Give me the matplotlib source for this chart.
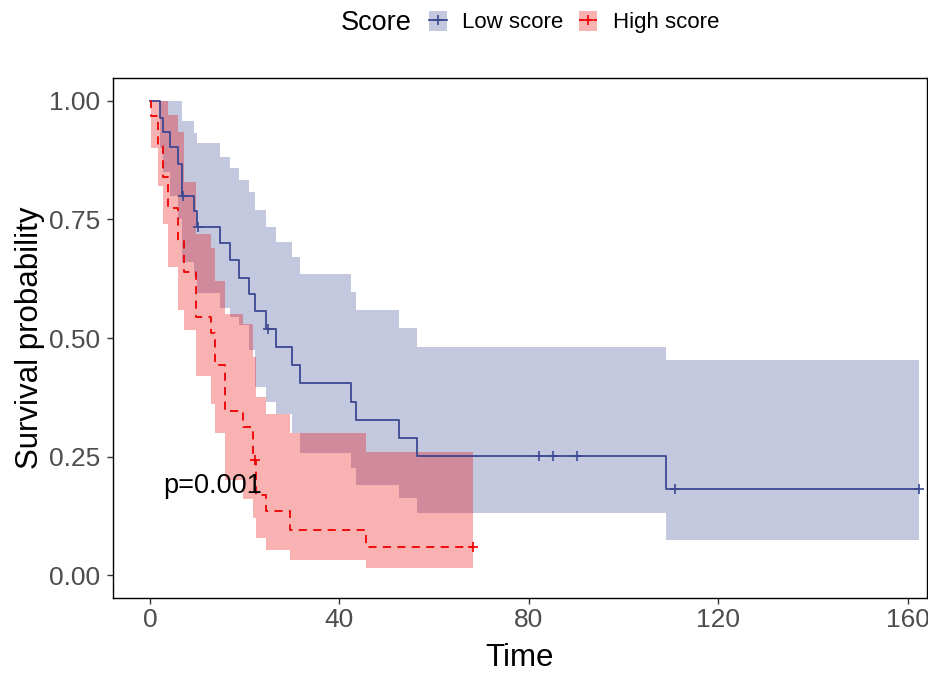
import matplotlib
matplotlib.use("Agg")
import matplotlib.pyplot as plt
from matplotlib.patches import Patch
from matplotlib.lines import Line2D

plt.rcParams['font.family'] = ['Liberation Sans', 'DejaVu Sans']

# Kaplan-Meier steps: time of each step, survival after it, and the 95% band
low_t = [0, 2.1, 2.8, 4.2, 6.0, 6.7, 9.2, 9.9, 14.8, 16.9, 18.9, 21.0, 22.2,
         24.6, 26.6, 29.9, 31.7, 42.4, 43.6, 52.6, 56.5, 108.9]
low_s = [1.0, 0.964, 0.935, 0.902, 0.868, 0.80, 0.768, 0.735, 0.70, 0.664,
         0.627, 0.593, 0.557, 0.519, 0.482, 0.443, 0.406, 0.366, 0.328, 0.29,
         0.251, 0.181]
low_upper = [1.0, 1.0, 1.0, 1.0, 1.0, 0.957, 0.932, 0.911, 0.882, 0.858, 0.833,
             0.809, 0.77, 0.735, 0.703, 0.67, 0.636, 0.598, 0.56, 0.522, 0.482,
             0.454]
low_lower = [1.0, 0.90, 0.85, 0.80, 0.75, 0.66, 0.63, 0.594, 0.563, 0.545,
             0.527, 0.475, 0.397, 0.366, 0.34, 0.30, 0.257, 0.225, 0.19, 0.162,
             0.13, 0.074]
low_end = 162.5
low_cens_t = [6.9, 10.1, 25.0, 82.2, 85.2, 90.1, 110.9, 162.5]
low_cens_s = [0.80, 0.735, 0.519, 0.251, 0.251, 0.251, 0.181, 0.181]

high_t = [0, 0.3, 1.8, 2.8, 3.9, 6.0, 7.2, 9.8, 12.8, 13.7, 15.8, 19.7, 21.8,
          22.5, 24.6, 29.6, 45.6]
high_s = [1.0, 0.968, 0.904, 0.839, 0.774, 0.705, 0.64, 0.545, 0.51, 0.443,
          0.347, 0.313, 0.243, 0.169, 0.134, 0.096, 0.06]
high_upper = [1.0, 1.0, 1.0, 1.0, 0.97, 0.935, 0.83, 0.72, 0.69, 0.62, 0.55,
              0.53, 0.46, 0.376, 0.34, 0.30, 0.26]
high_lower = [1.0, 0.90, 0.82, 0.74, 0.65, 0.56, 0.517, 0.42, 0.36, 0.30, 0.20,
              0.16, 0.12, 0.078, 0.053, 0.032, 0.015]
high_end = 68.3
high_cens_t = [22.2, 68.3]
high_cens_s = [0.243, 0.06]

groups = ["Low score", "High score"]
colors = ["#3B4992", "#EE0000"]
x_ticks = [0, 40, 80, 120, 160]
y_ticks = [0, 0.25, 0.5, 0.75, 1.0]
y_labels = ["0.00", "0.25", "0.50", "0.75", "1.00"]
p_text = "p=0.001"


def extend(t, vals, end):
    return t + [end], vals + [vals[-1]]


fig = plt.figure(figsize=(9.29, 6.73), dpi=100)
ax = fig.add_axes([113 / 929, 1 - 598 / 673, 814 / 929, 520 / 673])

curves = [
    (low_t, low_s, low_upper, low_lower, low_end, low_cens_t, low_cens_s, "-"),
    (high_t, high_s, high_upper, high_lower, high_end, high_cens_t, high_cens_s, (0, (4.5, 3.5))),
]

# confidence bands first, so both lines sit on top
for (t, s, up, lo, end, ct, cs, ls), col in zip(curves, colors):
    tt, uu = extend(t, up, end)
    _, ll = extend(t, lo, end)
    ax.fill_between(tt, ll, uu, step="post", color=col, alpha=0.3, linewidth=0)

for (t, s, up, lo, end, ct, cs, ls), col in zip(curves, colors):
    tt, ss = extend(t, s, end)
    ax.step(tt, ss, where="post", color=col, lw=1.3, linestyle=ls)
    ax.plot(ct, cs, linestyle="none", marker="+", color=col, ms=7, mew=1.2)

ax.text(13.3, 0.187, p_text, fontsize=19.5, ha="center", va="center")

ax.set_xlim(-7.8, 164.1)
ax.set_ylim(-0.0485, 1.0485)
ax.set_xticks(x_ticks)
ax.set_yticks(y_ticks)
ax.set_yticklabels(y_labels)
ax.tick_params(labelsize=19, labelcolor="#4D4D4D", color="#333333",
               length=4, width=1)
ax.tick_params(axis="y", pad=5)
ax.tick_params(axis="x", pad=3)
for sp in ax.spines.values():
    sp.set_color("black")
    sp.set_linewidth(1.0)

ax.set_xlabel("Time", fontsize=22.5, labelpad=8)
ax.set_ylabel("Survival probability", fontsize=22.5, labelpad=3)

# legend along the top
handles = []
for i, col in enumerate(colors):
    ls = "-" if i == 0 else (0, (2.5, 1.5))
    handles.append((Patch(facecolor=col, alpha=0.3, edgecolor="none"),
                    Line2D([], [], color=col, lw=1.3, linestyle=ls,
                           marker="+", ms=7, mew=1.2)))
fig.text(341 / 929, 1 - 23 / 673, "Score", fontsize=19.5, ha="left", va="center")
fig.legend(handles, groups, ncol=2, loc="center",
           bbox_to_anchor=(574 / 929, 1 - 22 / 673), frameon=False,
           fontsize=16, handlelength=0.8, handleheight=1.0,
           handletextpad=0.7, columnspacing=0.7, borderpad=0, numpoints=1)

fig.savefig("out.png", dpi=100)
